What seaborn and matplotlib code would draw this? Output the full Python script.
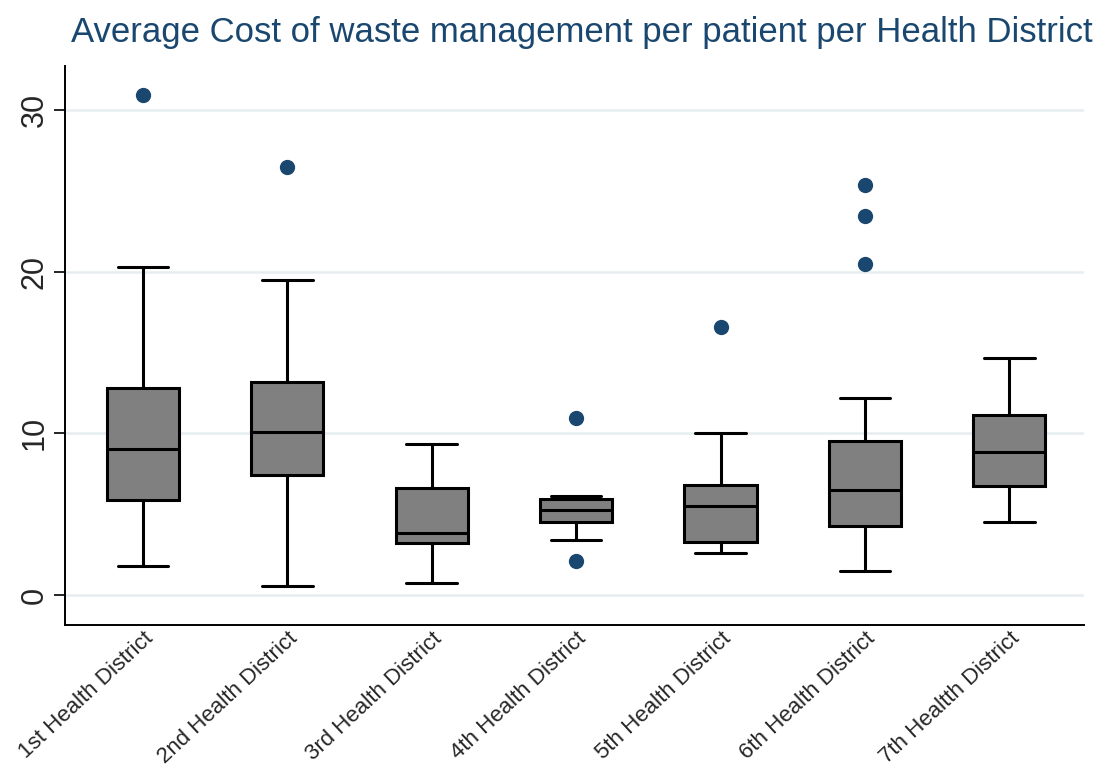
import pandas as pd
import matplotlib
matplotlib.use("Agg")
import matplotlib.pyplot as plt
import seaborn as sns

districts = ["1st Health District", "2nd Health District", "3rd Health District",
             "4th Health District", "5th Health District", "6th Health District",
             "7th Healtth District"]
whis_lo = [1.83, 0.57, 0.77, 3.41, 2.63, 1.51, 4.51]
q1 = [5.89, 7.44, 3.25, 4.51, 3.31, 4.28, 6.72]
median = [9.05, 10.08, 3.83, 5.27, 5.52, 6.47, 8.85]
q3 = [12.8, 13.2, 6.62, 5.96, 6.78, 9.51, 11.15]
whis_hi = [20.27, 19.5, 9.37, 6.14, 10.03, 12.18, 14.64]
outliers = [[30.9], [26.45], [], [10.96, 2.13], [16.59], [25.34, 23.43, 20.48], []]

sns.set_style("white")
plt.rcParams['font.family'] = ['Liberation Sans', 'DejaVu Sans']

stats = []
for i, name in enumerate(districts):
    stats.append(dict(label=name, whislo=whis_lo[i], q1=q1[i], med=median[i],
                      q3=q3[i], whishi=whis_hi[i], fliers=[]))

out_df = pd.DataFrame([(districts[i], v) for i, vals in enumerate(outliers) for v in vals],
                      columns=["district", "cost"])

fig = plt.figure(figsize=(11.01, 7.69), dpi=100)
ax = fig.add_axes([0.059, 0.187, 0.926, 0.727])

ax.bxp(stats, positions=range(len(districts)), widths=0.5, patch_artist=True,
       showfliers=False,
       boxprops=dict(facecolor="#808080", edgecolor="black", linewidth=2.2),
       medianprops=dict(color="black", linewidth=2.2),
       whiskerprops=dict(color="black", linewidth=2.2),
       capprops=dict(color="black", linewidth=2.2),
       capwidths=0.35, zorder=3)

sns.stripplot(data=out_df, x="district", y="cost", order=districts, jitter=False,
              color="#1a476f", size=11, ax=ax, zorder=4)

ax.set_xlim(-0.54, 6.52)
ax.set_ylim(-1.86, 32.7)
ax.set_yticks([0, 10, 20, 30])
ax.set_yticklabels(["0", "10", "20", "30"], rotation=90, va="center", fontsize=22)
ax.set_xticks(range(len(districts)))
ax.set_xticklabels(districts, rotation=43, ha="right", rotation_mode="anchor", fontsize=16)
ax.tick_params(axis="y", direction="out", length=8, width=1.2, color="black", left=True, pad=3)
ax.tick_params(axis="x", length=0, pad=2)
ax.yaxis.grid(True, color="#e6eef0", linewidth=1.8)
ax.set_axisbelow(True)
ax.set_xlabel("")
ax.set_ylabel("")
for s in ["top", "right"]:
    ax.spines[s].set_visible(False)
for s in ["left", "bottom"]:
    ax.spines[s].set_color("black")
    ax.spines[s].set_linewidth(1.4)

fig.text(0.528, 0.958, "Average Cost of waste management per patient per Health District",
         ha="center", va="center", fontsize=25, color="#1a476f")

fig.savefig("out.png", dpi=100)
